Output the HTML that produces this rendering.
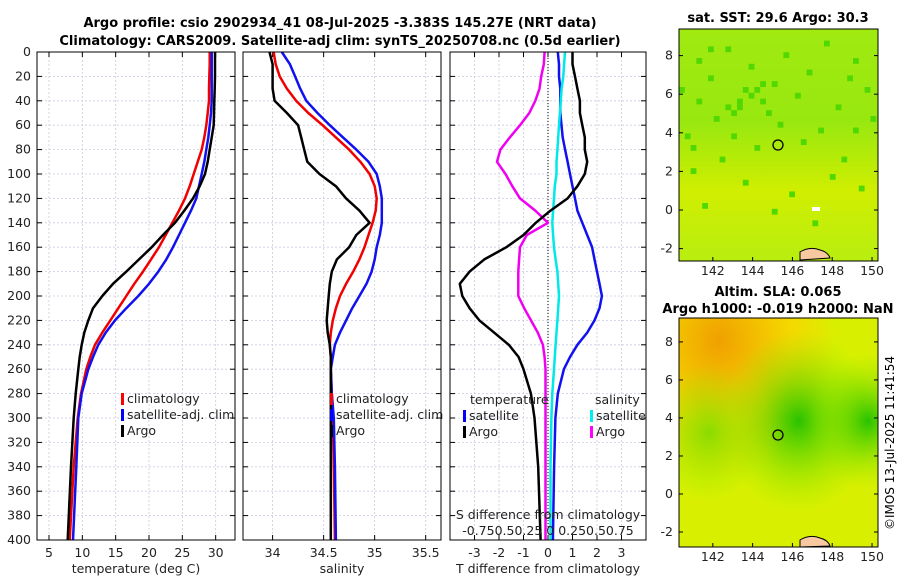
<!DOCTYPE html>
<html><head><meta charset="utf-8"><style>
body{margin:0;background:#fff;font-family:"Liberation Sans","DejaVu Sans",sans-serif}
svg text{font-family:"DejaVu Sans","Liberation Sans",sans-serif}
</style></head><body>
<svg id="c" width="900" height="580" viewBox="0 0 900 580" xmlns="http://www.w3.org/2000/svg">
<defs>
<radialGradient id="sla1" cx="0.2" cy="0.1" r="0.6"><stop offset="0" stop-color="#f0a000"/><stop offset="0.6" stop-color="#f5d800"/><stop offset="1" stop-color="#d8f000"/></radialGradient>
<radialGradient id="sla2" cx="0.6" cy="0.45" r="0.4"><stop offset="0" stop-color="#20c000" stop-opacity="0.95"/><stop offset="1" stop-color="#90e800" stop-opacity="0"/></radialGradient>
<radialGradient id="sla3" cx="0.95" cy="0.45" r="0.3"><stop offset="0" stop-color="#20c000" stop-opacity="0.95"/><stop offset="1" stop-color="#90e800" stop-opacity="0"/></radialGradient>
<radialGradient id="sla4" cx="0.15" cy="0.5" r="0.3"><stop offset="0" stop-color="#70dc00" stop-opacity="0.8"/><stop offset="1" stop-color="#90e800" stop-opacity="0"/></radialGradient>
<linearGradient id="sst" x1="0" y1="0" x2="0" y2="1"><stop offset="0" stop-color="#a0ea10"/><stop offset="0.4" stop-color="#98e810"/><stop offset="0.7" stop-color="#d0ee00"/><stop offset="1" stop-color="#b8ee10"/></linearGradient>
</defs>
<text x="340" y="27" font-size="13" font-weight="bold" text-anchor="middle">Argo profile: csio 2902934_41 08-Jul-2025 -3.383S 145.27E (NRT data)</text>
<text x="340" y="45" font-size="13" font-weight="bold" text-anchor="middle">Climatology: CARS2009. Satellite-adj clim: synTS_20250708.nc (0.5d earlier)</text>
<g id="p1"></g>
<g id="p2"></g>
<g id="p3"></g>
<g>
<text x="778" y="22" font-size="13" font-weight="bold" text-anchor="middle">sat. SST: 29.6 Argo: 30.3</text>
<rect x="679" y="29" width="199" height="232" fill="url(#sst)"/>
<g id="sstcells"></g>
<rect x="812" y="207" width="8" height="4" fill="#fff"/>
<circle cx="778" cy="145" r="5" fill="none" stroke="#000" stroke-width="1.3"/>
<path d="M800,252 q10,-6 20,-2 q8,2 10,8 l-30,2z" fill="#f8c8a0" stroke="#000" stroke-width="1"/>
<rect x="679" y="29" width="199" height="232" fill="none" stroke="#000"/>
</g>
<g>
<text x="778" y="296" font-size="13" font-weight="bold" text-anchor="middle">Altim. SLA: 0.065</text>
<text x="778" y="313" font-size="13" font-weight="bold" text-anchor="middle">Argo h1000: -0.019 h2000: NaN</text>
<rect x="679" y="318" width="199" height="229" fill="url(#sla1)"/>
<rect x="679" y="318" width="199" height="229" fill="url(#sla4)"/>
<rect x="679" y="318" width="199" height="229" fill="url(#sla2)"/>
<rect x="679" y="318" width="199" height="229" fill="url(#sla3)"/>
<circle cx="778" cy="435" r="5" fill="none" stroke="#000" stroke-width="1.3"/>
<path d="M800,540 q10,-6 20,-2 q8,2 10,8 l-30,1z" fill="#f8c8a0" stroke="#000" stroke-width="1"/>
<rect x="679" y="318" width="199" height="229" fill="none" stroke="#000"/>
</g>
<g id="maxes"></g>
<text transform="translate(894,443) rotate(-90)" font-size="12" text-anchor="middle">©IMOS 13-Jul-2025 11:41:54</text>
</svg>
<script>
const NS='http://www.w3.org/2000/svg';
const depthTicks=[0,20,40,60,80,100,120,140,160,180,200,220,240,260,280,300,320,340,360,380,400];
const tempTicks=[5,10,15,20,25,30];
const salTicks=[34,34.5,35,35.5];
const tdiffTicks=[-3,-2,-1,0,1,2,3];
const depths=[0,10,20,30,40,50,60,70,80,90,100,110,120,130,140,150,160,170,180,190,200,210,220,230,240,250,260,280,300,340,400];
const tempClim=[29.1,29.1,29.05,29.0,29.0,28.8,28.6,28.3,27.9,27.3,26.7,26.1,25.4,24.5,23.5,22.5,21.5,20.3,19.1,17.8,16.6,15.4,14.2,13.0,11.9,11.2,10.6,9.8,9.3,8.7,8.1];
const tempSat=[29.4,29.4,29.4,29.4,29.4,29.3,29.1,28.9,28.6,28.3,27.9,27.5,27.1,26.3,25.4,24.5,23.6,22.6,21.4,20.0,18.4,16.6,14.9,13.5,12.4,11.6,10.9,9.9,9.4,9.1,8.6];
const tempArgo=[29.9,29.9,29.9,29.85,29.8,29.75,29.7,29.4,29.1,28.8,28.4,27.6,26.6,25.3,23.9,22.1,20.4,18.5,16.6,14.6,13.0,11.6,10.9,10.3,9.9,9.6,9.4,9.0,8.7,8.3,7.8];
const salClim=[34.01,34.03,34.07,34.14,34.23,34.35,34.49,34.62,34.75,34.86,34.95,35.0,35.02,35.01,34.98,34.94,34.9,34.85,34.79,34.72,34.66,34.62,34.59,34.57,34.56,34.57,34.57,34.58,34.59,34.6,34.61];
const salSat=[34.09,34.17,34.22,34.27,34.33,34.44,34.56,34.69,34.82,34.94,35.02,35.05,35.07,35.07,35.07,35.05,35.02,35.0,34.97,34.92,34.85,34.78,34.72,34.66,34.61,34.59,34.57,34.58,34.6,34.61,34.62];
const salArgo=[33.97,34.0,34.0,34.0,34.02,34.14,34.25,34.28,34.31,34.34,34.46,34.62,34.72,34.85,34.95,34.82,34.75,34.63,34.58,34.56,34.55,34.54,34.53,34.54,34.56,34.57,34.57,34.57,34.57,34.57,34.57];
const tdArgo=[1.0,1.0,1.1,1.2,1.3,1.3,1.4,1.5,1.5,1.6,1.5,1.2,0.8,0.1,-0.5,-1.0,-1.7,-2.6,-3.2,-3.6,-3.5,-3.2,-2.8,-2.2,-1.6,-1.2,-1.0,-0.7,-0.55,-0.4,-0.3];
const tdSat=[0.4,0.45,0.45,0.5,0.5,0.5,0.55,0.6,0.7,0.8,0.9,1.0,1.1,1.2,1.4,1.6,1.8,1.9,2.0,2.1,2.2,2.1,1.9,1.6,1.2,0.9,0.65,0.4,0.3,0.25,0.2];
const sdArgo=[-0.04,-0.05,-0.08,-0.1,-0.15,-0.22,-0.33,-0.45,-0.56,-0.6,-0.5,-0.42,-0.33,-0.15,0.0,-0.25,-0.33,-0.34,-0.35,-0.35,-0.35,-0.28,-0.2,-0.12,-0.06,-0.04,-0.03,-0.03,-0.03,-0.03,-0.03];
const sdSat=[0.2,0.19,0.18,0.16,0.15,0.14,0.13,0.12,0.11,0.1,0.1,0.08,0.07,0.06,0.05,0.06,0.07,0.09,0.11,0.12,0.13,0.12,0.11,0.1,0.09,0.08,0.07,0.05,0.04,0.03,0.03];
const Y0=52,Y1=540;
const yS=d=>Y0+(d/400)*(Y1-Y0);
function el(p,t,a){const e=document.createElementNS(NS,t);for(const k in a)e.setAttribute(k,a[k]);p.appendChild(e);return e;}
function txt(p,x,y,s,o){const t=el(p,'text',Object.assign({x:x,y:y,'font-size':12.5,fill:'#222'},o||{}));t.textContent=s;return t;}
function panel(g,x0,x1,xmin,xmax,ticks,fmt){
 const xs=v=>x0+(v-xmin)/(xmax-xmin)*(x1-x0);
 depthTicks.forEach(d=>{const l=el(g,'line',{x1:x0,x2:x1,y1:yS(d),y2:yS(d),stroke:'#c8cce0','stroke-dasharray':'2,2','stroke-width':0.8});
  el(g,'line',{x1:x0,x2:x0+5,y1:yS(d),y2:yS(d),stroke:'#000'});el(g,'line',{x1:x1-5,x2:x1,y1:yS(d),y2:yS(d),stroke:'#000'});});
 ticks.forEach(v=>{el(g,'line',{x1:xs(v),x2:xs(v),y1:Y0,y2:Y1,stroke:'#c8cce0','stroke-dasharray':'2,2','stroke-width':0.8});
  el(g,'line',{x1:xs(v),x2:xs(v),y1:Y1,y2:Y1-5,stroke:'#000'});el(g,'line',{x1:xs(v),x2:xs(v),y1:Y0,y2:Y0+5,stroke:'#000'});
  if(fmt){const t=txt(g,xs(v),557,fmt(v),{'text-anchor':'middle'});}});
 return xs;}
function line(g,xs,vals,col,name){const pts=vals.map((v,i)=>xs(v).toFixed(1)+','+yS(depths[i]).toFixed(1)).join(' ');
 const p=el(g,'polyline',{points:pts,fill:'none',stroke:col,'stroke-width':2.5,'stroke-linejoin':'round'});
 }
function frame(g,x0,x1){el(g,'rect',{x:x0,y:Y0,width:x1-x0,height:Y1-Y0,fill:'none',stroke:'#000'});}
function legend(g,x,y,items){items.forEach((it,i)=>{el(g,'rect',{x:x,y:y+i*16-10,width:3,height:12,fill:it[1]});
 const t=txt(g,x+6,y+i*16,it[0]);});}
// panel 1
const g1=document.getElementById('p1');
const xs1=panel(g1,37,235,3.2,32.9,tempTicks,v=>String(v));
depthTicks.forEach(d=>{const t=txt(g1,31,yS(d)+4,String(d),{'text-anchor':'end'});});
line(g1,xs1,tempClim,'#f00000','temp-climatology-line');line(g1,xs1,tempSat,'#1010f0','temp-satellite-line');line(g1,xs1,tempArgo,'#000','temp-argo-line');
legend(g1,121,403,[['climatology','#f00'],['satellite-adj. clim','#00f'],['Argo','#000']]);
frame(g1,37,235);
txt(g1,136,573,'temperature (deg C)',{'text-anchor':'middle'});
// panel 2
const g2=document.getElementById('p2');
const xs2=panel(g2,243,441,33.71,35.65,salTicks,v=>String(v));
line(g2,xs2,salClim,'#f00000','sal-climatology-line');line(g2,xs2,salSat,'#1010f0','sal-satellite-line');line(g2,xs2,salArgo,'#000','sal-argo-line');
legend(g2,330,403,[['climatology','#f00'],['satellite-adj. clim','#00f'],['Argo','#000']]);
frame(g2,243,441);
txt(g2,342,573,'salinity',{'text-anchor':'middle'});
// panel 3
const g3=document.getElementById('p3');
const xs3=panel(g3,450,646,-4,4,tdiffTicks,v=>String(v));
const xsS=v=>xs3(0)+v*85;
el(g3,'line',{x1:xs3(0),x2:xs3(0),y1:Y0,y2:Y1,stroke:'#000','stroke-dasharray':'1,2'});
line(g3,xs3,tdSat,'#1010f0','tdiff-satellite-line');line(g3,xsS,sdSat,'#00e8e8','sdiff-satellite-line');
line(g3,xsS,sdArgo,'#f000f0','sdiff-argo-line');line(g3,xs3,tdArgo,'#000','tdiff-argo-line');
txt(g3,470,404,'temperature');txt(g3,595,404,'salinity');
legend(g3,463,420,[['satellite','#00f'],['Argo','#000']]);
legend(g3,590,420,[['satellite','#0ee'],['Argo','#f0f']]);
txt(g3,548,519,'S difference from climatology',{'text-anchor':'middle'});
txt(g3,548,535,'-0.750.50.25 0  0.250.50.75',{'text-anchor':'middle'});
frame(g3,450,646);
txt(g3,548,573,'T difference from climatology',{'text-anchor':'middle'});
// map axes
const gm=document.getElementById('maxes');
const lonTicks=[142,144,146,148,150];const latTicks=[8,6,4,2,0,-2];
function mapAx(x0,x1,y0,y1,latY){
 lonTicks.forEach(v=>{const x=x0+(v-140.3)/(150.3-140.3)*(x1-x0);txt(gm,x,y1+14,String(v),{'text-anchor':'middle'});
  el(gm,'line',{x1:x,x2:x,y1:y1,y2:y1-4,stroke:'#000'});});
 latTicks.forEach(v=>{const y=latY(v);txt(gm,x0-6,y+4,String(v),{'text-anchor':'end'});
  el(gm,'line',{x1:x0,x2:x0+4,y1:y,y2:y,stroke:'#000'});el(gm,'line',{x1:x1-4,x2:x1,y1:y,y2:y,stroke:'#000'});});}
mapAx(679,878,29,261,v=>210-v*19.3);
mapAx(679,878,318,547,v=>494-v*19.3*0.985);
// sst cells (texture)
const sc=document.getElementById('sstcells');
const greenCells=[[0,10],[3,5],[5,8],[8,3],[10,12],[12,6],[14,9],[15,14],[18,4],[20,11],[22,7],[25,2],[27,13],[30,5],[32,10],[6,15],[9,18],[13,20],[17,16],[21,19],[24,17],[28,22],[2,24],[11,26],[19,28],[26,25],[31,27],[4,30],[16,31],[23,33],[7,22],[29,8],[1,18],[33,15],[11,10],[12,11],[13,10],[14,12],[9,14],[10,13],[8,13],[16,9],[3,12],[5,3],[2,20],[30,17]];
greenCells.forEach(c=>{const r=el(sc,'rect',{x:679+c[0]*5.8,y:29+c[1]*5.8,width:5.8,height:5.8,fill:'#50d800'});});
</script>
</body></html>
